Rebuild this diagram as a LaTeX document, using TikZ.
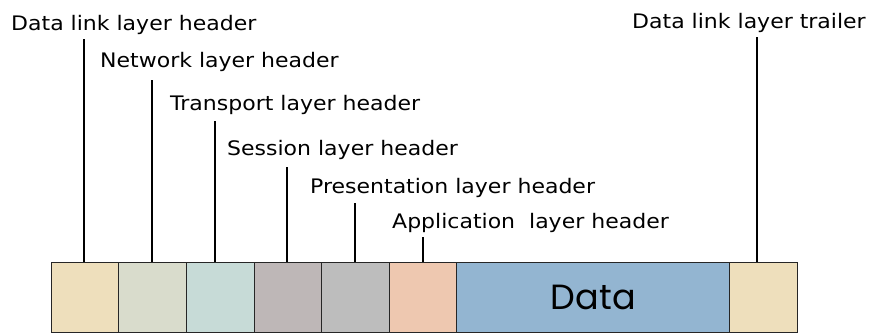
\documentclass[tikz,border=0pt]{standalone}
\usepackage{fontspec}
\setmainfont{DejaVu Sans}[FakeStretch=1.1]
\newfontfamily\datafont{Poppins}
\definecolor{cA}{HTML}{EEDFBC}
\definecolor{cB}{HTML}{D9DCCC}
\definecolor{cC}{HTML}{C7DBD7}
\definecolor{cD}{HTML}{BEB7B7}
\definecolor{cE}{HTML}{BDBDBD}
\definecolor{cF}{HTML}{EEC8B0}
\definecolor{cG}{HTML}{93B5D1}
\begin{document}
\begin{tikzpicture}[x=1pt,y=-1pt,
  box/.style={draw=black!85, line width=0.9pt, inner sep=0pt, minimum height=69.5pt, anchor=north west},
  hdr/.style={minimum width=67.6pt},
  lbl/.style={anchor=base west, inner sep=0pt, font=\fontsize{20}{23}\selectfont},
  leader/.style={line width=2pt, black}]
\useasboundingbox (0,0) rectangle (877,332);
% boxes
\node[box,hdr,fill=cA] (b1) at (50.7,262) {};
\node[box,hdr,fill=cB] (b2) at (118.3,262) {};
\node[box,hdr,fill=cC] (b3) at (185.9,262) {};
\node[box,hdr,fill=cD] (b4) at (253.5,262) {};
\node[box,hdr,fill=cE] (b5) at (321.1,262) {};
\node[box,hdr,fill=cF] (b6) at (388.7,262) {};
\node[box,minimum width=273pt,fill=cG] (data) at (456.3,262) {};
\node[box,minimum width=68pt,fill=cA] (tr) at (729.3,262) {};
\node[font=\datafont\fontsize{35}{40}\selectfont] (dtxt) at (data.center) {Data};
% labels
\node[lbl] (l1) at (11,30) {Data link layer header};
\node[lbl] (l2) at (100,67) {Network layer header};
\node[lbl] (l3) at (170,110) {Transport layer header};
\node[lbl] (l4) at (227,155) {Session layer header};
\node[lbl] (l5) at (310,193) {Presentation layer header};
\node[lbl] (l6) at (392,228) {Application\ \ layer header};
\node[lbl] (l7) at (632,28) {Data link layer trailer};
% leader tops
\coordinate (t1) at (84,39);
\coordinate (t2) at (152,80);
\coordinate (t3) at (215,121);
\coordinate (t4) at (287,167);
\coordinate (t5) at (355,203);
\coordinate (t6) at (423,237);
\coordinate (t7) at (757,37);
\draw[leader] (t1) -- (t1 |- b1.north);
\draw[leader] (t2) -- (t2 |- b2.north);
\draw[leader] (t3) -- (t3 |- b3.north);
\draw[leader] (t4) -- (t4 |- b4.north);
\draw[leader] (t5) -- (t5 |- b5.north);
\draw[leader] (t6) -- (t6 |- b6.north);
\draw[leader] (t7) -- (t7 |- tr.north);
\end{tikzpicture}
\end{document}
